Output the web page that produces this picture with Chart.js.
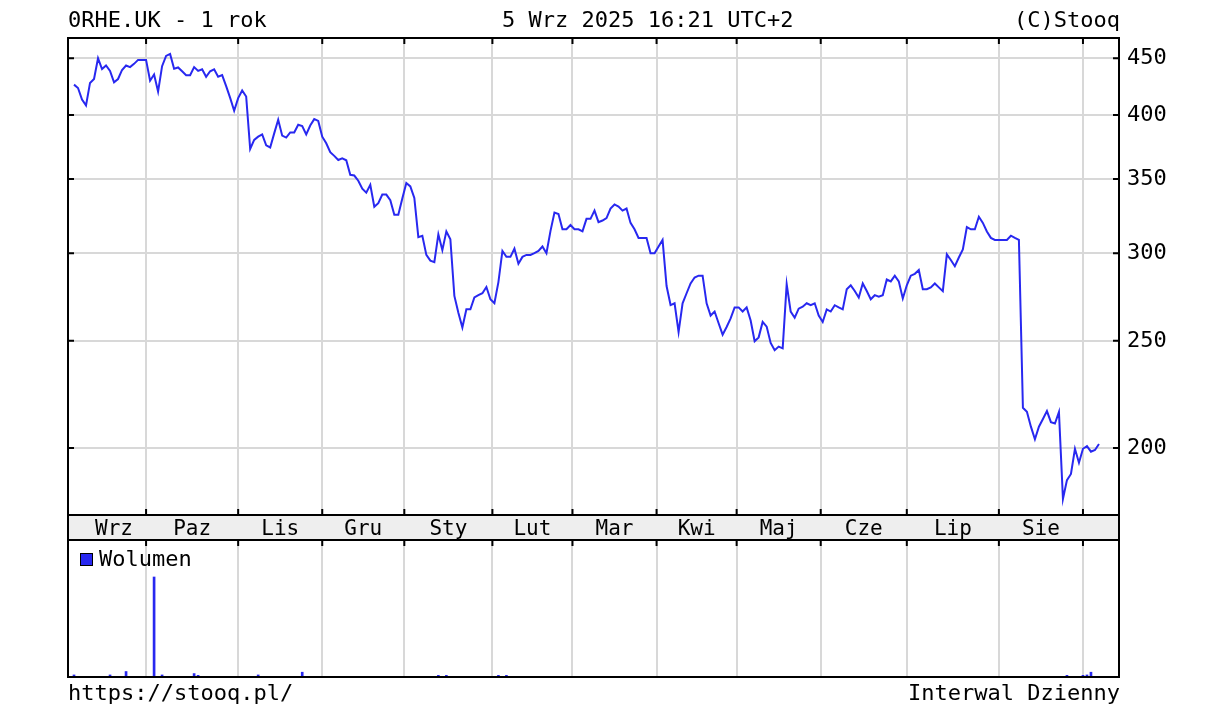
<!DOCTYPE html>
<html lang="pl">
<head>
<meta charset="utf-8">
<title>0RHE.UK - 1 rok</title>
<script src="https://cdn.jsdelivr.net/npm/chart.js@4.4.1/dist/chart.umd.min.js"></script>
<style>
  html, body { margin: 0; padding: 0; background: #fff; }
  #wrap { position: relative; width: 1215px; height: 707px; overflow: hidden;
          font-family: 'DejaVu Sans Mono', monospace; font-size: 22px; color: #000; }
  .txt { position: absolute; white-space: pre; line-height: 26px; }
  canvas { position: absolute; left: 0; }
  #priceChart { top: 0; }
  #volChart { top: 539px; }
  #legBox { position: absolute; left: 80px; top: 553px; width: 11px; height: 11px;
            background: #2828f0; border: 1px solid #000; }
</style>
</head>
<body>
<div id="wrap">
  <canvas id="priceChart" width="1215" height="545"></canvas>
  <canvas id="volChart" width="1215" height="168"></canvas>
  <div class="txt" style="left:68px; top:7px;">0RHE.UK - 1 rok</div>
  <div class="txt" style="left:502px; top:7px;">5 Wrz 2025 16:21 UTC+2</div>
  <div class="txt" style="right:95px; top:7px;">(C)Stooq</div>
  <div id="legBox"></div>
  <div class="txt" style="left:99px; top:546px;">Wolumen</div>
  <div class="txt" style="left:68px; top:680px;">https://stooq.pl/</div>
  <div class="txt" style="right:95px; top:680px;">Interwal Dzienny</div>
</div>
<script>
// --- dane wykresu ---
// oś X = kolejne sesje (indeks dnia), 0 = 5 wrz 2024
const monthLabels = ['Wrz','Paz','Lis','Gru','Sty','Lut','Mar','Kwi','Maj','Cze','Lip','Sie'];
const monthStarts = [18, 41, 62, 82.5, 104.5, 124.5, 145.5, 165.5, 186.5, 208, 231, 252];
const firstLabelAt = 10;
const priceTicks = [200, 250, 300, 350, 400, 450];

const priceValues = [
  426, 423, 413, 408, 427.5, 431, 450, 440, 443.3, 438.3,
  428.1, 431, 439.2, 443.3, 441.8, 444.8, 448.5, 448.5, 448.5, 429.5,
  435.1, 419.9, 442.7, 452.2, 454.1, 440.4, 441.5, 438, 434.5, 434.5,
  441.8, 438.3, 439.8, 433, 438, 439.8, 433, 434.5, 424.7, 414.4,
  403.5, 414.2, 420.8, 415.6, 372.7, 379.7, 382.3, 384.1, 375.4, 373.8,
  384.9, 396, 383.1, 381.6, 385.7, 385.7, 391.9, 390.9, 384.1, 391.3,
  396.5, 395, 382.3, 377.1, 370.2, 367.3, 364.2, 365.5, 364, 353.1,
  352.6, 348.8, 343.1, 340.3, 345.8, 330.4, 332.9, 338.9, 338.9, 334.9,
  325, 325, 336.1, 347.2, 344.7, 336.6, 310.2, 311.1, 298.9, 295.4,
  294.5, 312, 301.9, 313.9, 308.8, 274.5, 265, 257, 266.9, 266.9,
  273.6, 274.9, 276, 279.6, 272.6, 270.3, 282.5, 301.4, 297.7, 297.7,
  302.8, 293.5, 297.7, 298.9, 298.9, 300, 301.4, 304.2, 300, 314.1,
  326.4, 325.5, 315.3, 315.3, 318.1, 315.3, 315.3, 313.9, 322.2, 322.2,
  327.8, 320, 321.1, 322.7, 329.2, 332, 330.6, 327.8, 329.2, 319.5,
  315.3, 309.7, 309.7, 309.7, 300, 300, 304.2, 308.4, 280.2, 269.3,
  270.3, 254.6, 270.3, 276, 281.7, 285.2, 286.3, 286.3, 270.3, 263.5,
  265.7, 259.3, 253.2, 257.3, 261.9, 268, 268, 265.7, 268, 260.8,
  249.8, 251.8, 260, 257.5, 248.9, 245.2, 247, 246.1, 281.3, 265.7,
  262.3, 267.3, 268.4, 270.3, 269.2, 270.3, 263.5, 260, 266.9, 265.7,
  269.2, 268, 266.9, 278.3, 280.6, 277.3, 273.6, 281.7, 277.3, 272.6,
  274.9, 274.1, 274.9, 284, 282.9, 286.3, 282.9, 273, 280.6, 286.3,
  287.4, 289.7, 278.3, 278.3, 279.4, 281.7, 279.4, 277.2, 299.3, 295.8,
  292, 297.3, 302.3, 316.7, 315.3, 315.3, 323.6, 319.5, 313.9, 309.7,
  308.4, 308.4, 308.4, 308.4, 311.1, 309.7, 308.4, 217.5, 215.7, 209.1,
  203.7, 209.1, 212.5, 216, 211.1, 210.5, 215.6, 179.9, 187.1, 189.5,
  199.7, 194, 199.7, 200.8, 198.5, 199.2, 201.7
];

// wolumen: tylko sesje z obrotem (reszta = 0)
const volumeDays   = [0, 9, 13, 20, 22, 30, 31, 46, 57, 91, 93, 106, 108, 248, 252, 253, 254];
const volumeValues = [150, 150, 400, 7300, 150, 250, 120, 150, 350, 120, 120, 120, 120, 120, 120, 150, 350];
const volumeMax = 10000;

const priceMin = 174, priceMax = 469.4;
const dayMin = -1.5, dayMax = 261;

// --- style ---
const LINE = '#2828f0';
const GRID = '#d8d8d8';
const STRIP = '#eeeeee';
const FONT = "'DejaVu Sans Mono', monospace";
const STRIP_H = 25;
Chart.defaults.font.family = FONT;

const labelAt = monthLabels.map((m, k) => k === 0 ? firstLabelAt : (monthStarts[k-1] + monthStarts[k]) / 2);

function setTicks(list){
  return scale => { scale.ticks = list.map(v => ({ value: v })); };
}

// ramka, pasek z miesiącami i wewnętrzne kreski podziałki
const priceFrame = {
  id: 'priceFrame',
  beforeDraw(chart){
    const { ctx, chartArea: a } = chart;
    ctx.save();
    ctx.fillStyle = STRIP;
    ctx.fillRect(a.left, a.bottom, a.right - a.left, STRIP_H);
    ctx.restore();
  },
  afterDraw(chart){
    const { ctx, chartArea: a, scales } = chart;
    ctx.save();
    ctx.strokeStyle = '#000';
    ctx.lineWidth = 2;
    ctx.strokeRect(a.left, a.top, a.right - a.left, a.bottom + STRIP_H - a.top);
    ctx.beginPath();
    ctx.moveTo(a.left, a.bottom); ctx.lineTo(a.right, a.bottom);
    scales.xg.ticks.forEach(t => {
      const x = scales.xg.getPixelForValue(t.value);
      ctx.moveTo(x, a.top); ctx.lineTo(x, a.top + 6);
      ctx.moveTo(x, a.bottom); ctx.lineTo(x, a.bottom - 6);
    });
    scales.y.ticks.forEach(t => {
      const y = scales.y.getPixelForValue(t.value);
      ctx.moveTo(a.left, y); ctx.lineTo(a.left + 6, y);
      ctx.moveTo(a.right, y); ctx.lineTo(a.right - 6, y);
    });
    ctx.stroke();
    ctx.restore();
  }
};

const volFrame = {
  id: 'volFrame',
  afterDraw(chart){
    const { ctx, chartArea: a, scales } = chart;
    ctx.save();
    ctx.strokeStyle = '#000';
    ctx.lineWidth = 2;
    ctx.strokeRect(a.left, a.top, a.right - a.left, a.bottom - a.top);
    ctx.beginPath();
    scales.x.ticks.forEach(t => {
      const x = scales.x.getPixelForValue(t.value);
      ctx.moveTo(x, a.top); ctx.lineTo(x, a.top + 6);
    });
    ctx.stroke();
    ctx.restore();
  }
};

// --- wykres ceny ---
new Chart(document.getElementById('priceChart'), {
  type: 'line',
  data: {
    datasets: [{
      data: priceValues.map((v, i) => ({ x: i, y: v })),
      borderColor: LINE,
      borderWidth: 2,
      pointRadius: 0,
      tension: 0,
      fill: false
    }]
  },
  options: {
    responsive: false,
    animation: false,
    layout: { padding: { left: 68, top: 38, right: 0, bottom: 5 } },
    plugins: { legend: { display: false }, tooltip: { enabled: false } },
    scales: {
      x: {
        type: 'linear', position: 'bottom', min: dayMin, max: dayMax,
        afterBuildTicks: setTicks(labelAt),
        afterFit: s => { s.height = STRIP_H; },
        grid: { display: false, drawTicks: false },
        border: { display: false },
        ticks: {
          autoSkip: false, maxRotation: 0, padding: 2,
          font: { family: FONT, size: 21 }, color: '#000',
          callback: (v, i) => monthLabels[i]
        }
      },
      xg: {
        type: 'linear', position: 'bottom', min: dayMin, max: dayMax,
        afterBuildTicks: setTicks(monthStarts),
        afterFit: s => { s.height = 0; },
        grid: { color: GRID, lineWidth: 2, drawTicks: false },
        border: { display: false },
        ticks: { display: false }
      },
      y: {
        type: 'logarithmic', position: 'right', min: priceMin, max: priceMax,
        afterBuildTicks: setTicks(priceTicks),
        afterFit: s => { s.width = 96; },
        grid: { color: GRID, lineWidth: 2, drawTicks: false },
        border: { display: false },
        ticks: { padding: 8, font: { family: FONT, size: 22 }, color: '#000', callback: v => String(v) }
      }
    }
  },
  plugins: [priceFrame]
});

// --- wykres wolumenu ---
new Chart(document.getElementById('volChart'), {
  type: 'bar',
  data: {
    datasets: [{
      data: volumeDays.map((d, k) => ({ x: d, y: volumeValues[k] })),
      backgroundColor: LINE,
      borderWidth: 0,
      barThickness: 2
    }]
  },
  options: {
    responsive: false,
    animation: false,
    layout: { padding: { left: 68, right: 96, top: 1, bottom: 30 } },
    plugins: { legend: { display: false }, tooltip: { enabled: false } },
    scales: {
      x: {
        type: 'linear', min: dayMin, max: dayMax, offset: false,
        afterBuildTicks: setTicks(monthStarts),
        afterFit: s => { s.height = 0; },
        grid: { color: GRID, lineWidth: 2, drawTicks: false, offset: false },
        border: { display: false },
        ticks: { display: false }
      },
      y: { display: false, min: 0, max: volumeMax }
    }
  },
  plugins: [volFrame]
});
</script>
</body>
</html>
